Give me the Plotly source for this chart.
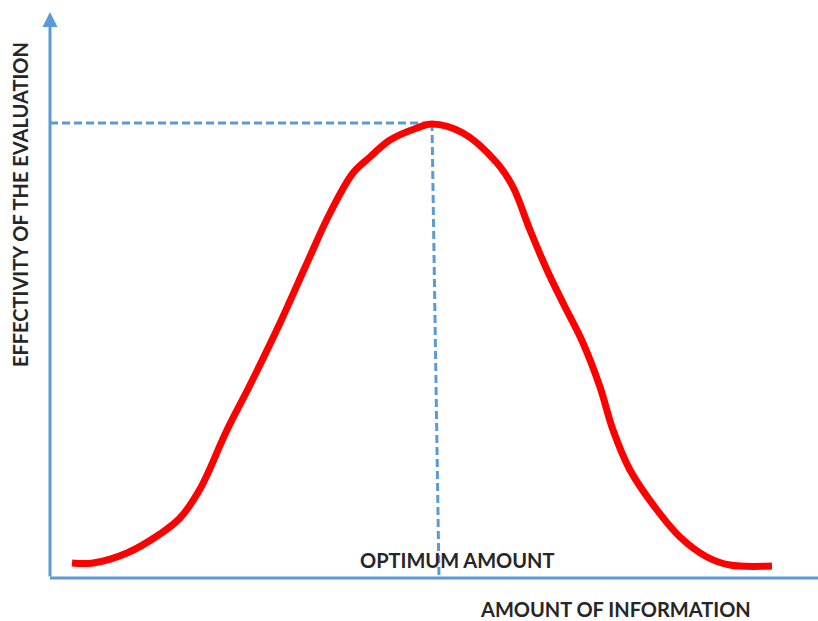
import plotly.graph_objects as go

# Curve (x: amount of information, y: effectivity)
amount = [22, 43, 77, 110, 130, 150, 177, 200, 230, 257, 280, 303, 320, 340, 367, 382,
          413, 447, 463, 480, 497, 513, 533, 550, 563, 580, 607, 630, 657, 680, 722]
effectivity = [15, 15, 25, 44, 60, 89, 148, 193, 255, 315, 365, 405, 421, 438, 450, 454,
               445, 415, 391, 348, 308, 275, 235, 191, 148, 108, 68, 41, 21, 13, 12]

optimum_x_top = 382
optimum_x_bottom = 389
optimum_y = 455

y_title = "EFFECTIVITY OF THE EVALUATION"
x_title = "AMOUNT OF INFORMATION"
optimum_label = "OPTIMUM AMOUNT"

blue = "#5B9BD5"
txt = "#262626"
font_family = "Lato"
fsize = 20

fig = go.Figure()

# dashed guides
fig.add_trace(go.Scatter(x=[0, optimum_x_top], y=[optimum_y, optimum_y], mode="lines",
                         line=dict(color=blue, width=3, dash="8px,4px"), hoverinfo="skip"))
fig.add_trace(go.Scatter(x=[optimum_x_top, optimum_x_bottom], y=[optimum_y, 0], mode="lines",
                         line=dict(color=blue, width=3, dash="8px,4px"), hoverinfo="skip"))

# red curve
fig.add_trace(go.Scatter(x=amount, y=effectivity, mode="lines",
                         line=dict(color="#FF0000", width=7, shape="spline", smoothing=1.0),
                         hoverinfo="skip"))

# x axis line
fig.add_shape(type="line", x0=0, x1=768, y0=0, y1=0, xref="x", yref="y",
              line=dict(color=blue, width=3))
# y axis arrow
fig.add_annotation(x=0, y=566, ax=0, ay=0, xref="x", yref="y", axref="x", ayref="y",
                   showarrow=True, arrowhead=2, arrowsize=1, arrowwidth=3, arrowcolor=blue, text="")

fig.add_annotation(x=407, y=18, xref="x", yref="y", text=optimum_label, showarrow=False,
                   xanchor="center", yanchor="middle",
                   font=dict(family=font_family, size=fsize, color=txt, weight="bold"))
fig.add_annotation(x=0.740, y=-0.0322, xref="paper", yref="paper", text=x_title, showarrow=False,
                   xanchor="center", yanchor="middle",
                   font=dict(family=font_family, size=fsize, color=txt, weight="bold"))
fig.add_annotation(x=-0.0257, y=0.6525, xref="paper", yref="paper", text=y_title, showarrow=False,
                   textangle=-90, xanchor="center", yanchor="middle",
                   font=dict(family=font_family, size=fsize, color=txt, weight="bold"))

fig.update_layout(
    width=818, height=621,
    margin=dict(l=40, r=0, t=0, b=31, autoexpand=False),
    showlegend=False,
    plot_bgcolor="white", paper_bgcolor="white",
    xaxis=dict(range=[-10, 768], visible=False, fixedrange=True),
    yaxis=dict(range=[-12, 578], visible=False, fixedrange=True),
)

fig.write_html("out.html", config={"displayModeBar": False},
               post_script="document.body.style.margin='0';document.body.style.overflow='hidden';")
